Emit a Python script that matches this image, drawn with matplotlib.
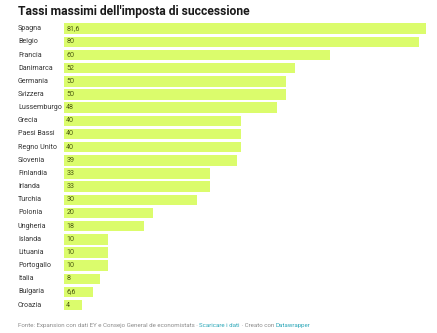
import matplotlib.pyplot as plt

countries = ["Spagna", "Belgio", "Francia", "Danimarca", "Germania", "Svizzera",
             "Lussemburgo", "Grecia", "Paesi Bassi", "Regno Unito", "Slovenia",
             "Finlandia", "Irlanda", "Turchia", "Polonia", "Ungheria", "Islanda",
             "Lituania", "Portogallo", "Italia", "Bulgaria", "Croazia"]
rates = [81.6, 80, 60, 52, 50, 50, 48, 40, 40, 40, 39, 33, 33, 30, 20, 18,
         10, 10, 10, 8, 6.6, 4]

plt.rcParams["font.family"] = ["Roboto", "DejaVu Sans"]

fig = plt.figure(figsize=(4.37, 3.33), dpi=100)
fig.patch.set_facecolor("white")
ax = fig.add_axes([0.1465, 0.064, 0.8285, 0.8696])

ypos = list(range(len(countries)))
ax.barh(ypos, rates, height=0.8, color="#dbfc6c", edgecolor="none")
ax.set_xlim(0, 81.6)
ax.set_ylim(len(countries) - 0.5, -0.5)

# value inside each bar, italian decimal comma
for y, v in zip(ypos, rates):
    lbl = f"{v:g}".replace(".", ",")
    ax.text(0.5, y, lbl, va="center", ha="left", fontsize=5.1, color="#4b5a10")

# country names, left aligned at a fixed figure position
for y, name in zip(ypos, countries):
    ax.annotate(name, xy=(18 / 437, y), xycoords=("figure fraction", "data"),
                fontsize=5.1, color="#333333", va="center", ha="left")

for s in ax.spines.values():
    s.set_visible(False)
ax.set_xticks([])
ax.set_yticks([])

fig.text(18 / 437, 1 - 12 / 333, "Tassi massimi dell'imposta di successione",
         fontsize=8.7, fontweight="bold", color="#1a1a1a", va="center", ha="left")

# footer with coloured links, each piece placed right after the previous one
grey, teal = "#8a8a8a", "#2aa7b8"
parts = [("Fonte: Expansion con dati EY e Consejo General de economistats · ", grey),
         ("Scaricare i dati", teal),
         (" · Creato con ", grey),
         ("Datawrapper", teal)]
anchor = fig.text(18 / 437, 1 - 328 / 333, parts[0][0], fontsize=4.4,
                  color=parts[0][1], va="bottom", ha="left")
for txt, col in parts[1:]:
    anchor = ax.annotate(txt, xy=(1, 0), xycoords=anchor, va="bottom", ha="left",
                         fontsize=4.4, color=col, annotation_clip=False)

fig.savefig("out.png", dpi=100, facecolor="white")
